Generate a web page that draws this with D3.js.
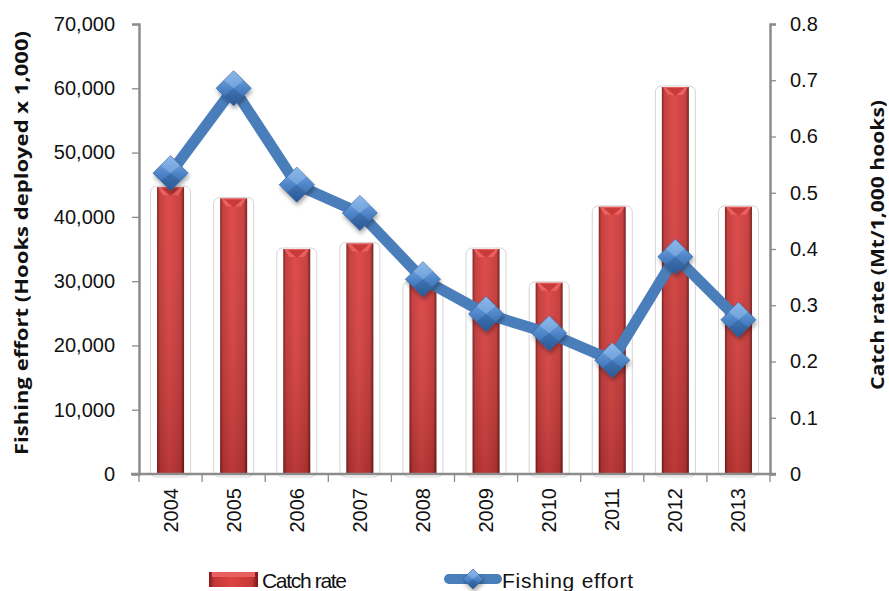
<!DOCTYPE html>
<html>
<head>
<meta charset="utf-8">
<script src="https://cdn.jsdelivr.net/npm/d3@7"></script>
<style>
  body { margin: 0; background: #fff; }
  svg { display: block; }
</style>
</head>
<body>
<div id="chart"></div>
<script>
// data
var years = ["2004","2005","2006","2007","2008","2009","2010","2011","2012","2013"];
var catchRate = [0.51, 0.49, 0.40, 0.41, 0.34, 0.40, 0.34, 0.475, 0.688, 0.475];
var effort = [46800, 60000, 45000, 40600, 30300, 24900, 21900, 17700, 33800, 24000];
var leftTicks = [0, 10000, 20000, 30000, 40000, 50000, 60000, 70000];
var rightTicks = [0, 0.1, 0.2, 0.3, 0.4, 0.5, 0.6, 0.7, 0.8];

var width = 889, height = 591;
var plot = {left: 139, right: 770, top: 24, bottom: 474};

var svg = d3.select("#chart").append("svg")
    .attr("width", width)
    .attr("height", height);

var defs = svg.append("defs");

// bar gradient (dark edges, bright middle)
var bg = defs.append("linearGradient").attr("id", "barGrad")
    .attr("x1", "0").attr("x2", "1").attr("y1", "0").attr("y2", "0");
bg.append("stop").attr("offset", "0").attr("stop-color", "#7a1b1b");
bg.append("stop").attr("offset", "0.1").attr("stop-color", "#c23736");
bg.append("stop").attr("offset", "0.45").attr("stop-color", "#db4342");
bg.append("stop").attr("offset", "0.88").attr("stop-color", "#c43837");
bg.append("stop").attr("offset", "1").attr("stop-color", "#6e1717");

var bv = defs.append("linearGradient").attr("id", "barShade")
    .attr("x1", "0").attr("x2", "0").attr("y1", "0").attr("y2", "1");
bv.append("stop").attr("offset", "0").attr("stop-color", "#ffffff").attr("stop-opacity", 0.05);
bv.append("stop").attr("offset", "1").attr("stop-color", "#000000").attr("stop-opacity", 0.15);

var dg = defs.append("linearGradient").attr("id", "diaGrad")
    .attr("x1", "0").attr("x2", "0").attr("y1", "0").attr("y2", "1");
dg.append("stop").attr("offset", "0").attr("stop-color", "#7fb0e8");
dg.append("stop").attr("offset", "0.5").attr("stop-color", "#4f86c9");
dg.append("stop").attr("offset", "1").attr("stop-color", "#2f5f9e");

var shadow = defs.append("filter").attr("id", "shadow")
    .attr("x", "-50%").attr("y", "-50%").attr("width", "200%").attr("height", "200%");
shadow.append("feDropShadow").attr("dx", 1).attr("dy", 3).attr("stdDeviation", 2)
    .attr("flood-color", "#000").attr("flood-opacity", 0.35);

// scales
var x = d3.scaleBand().domain(years).range([plot.left, plot.right]);
var yLeft = d3.scaleLinear().domain([0, 70000]).range([plot.bottom, plot.top]);
var yRight = d3.scaleLinear().domain([0, 0.8]).range([plot.bottom, plot.top]);

var barW = 27, frameW = 40;
var cx = function(d, i) { return x(years[i]) + x.bandwidth() / 2; };

// bars
var bars = svg.append("g").selectAll("g").data(catchRate).enter().append("g");

bars.append("rect")
    .attr("x", function(d, i) { return cx(d, i) - frameW / 2; })
    .attr("y", function(d) { return yRight(d) - 1; })
    .attr("width", frameW)
    .attr("height", function(d) { return plot.bottom - yRight(d) + 4; })
    .attr("rx", 6)
    .attr("fill", "none")
    .attr("stroke", "#d4d4d4")
    .attr("stroke-width", 1);

bars.append("rect")
    .attr("x", function(d, i) { return cx(d, i) - barW / 2; })
    .attr("y", function(d) { return yRight(d); })
    .attr("width", barW)
    .attr("height", function(d) { return plot.bottom - yRight(d); })
    .attr("fill", "url(#barGrad)");

bars.append("rect")
    .attr("x", function(d, i) { return cx(d, i) - barW / 2; })
    .attr("y", function(d) { return yRight(d); })
    .attr("width", barW)
    .attr("height", function(d) { return plot.bottom - yRight(d); })
    .attr("fill", "url(#barShade)");

// bevel on bar top: light band with a darker V inside
bars.append("path")
    .attr("d", function(d, i) {
      var c = cx(d, i), t = yRight(d), h = barW / 2 - 1;
      return "M" + (c - h) + "," + t + "L" + (c + h) + "," + t + "L" + (c + h - 5) + "," + (t + 8) +
        "L" + (c - h + 5) + "," + (t + 8) + "Z";
    })
    .attr("fill", "#e86160");
bars.append("path")
    .attr("d", function(d, i) {
      var c = cx(d, i), t = yRight(d);
      return "M" + (c - 9) + "," + (t + 1) + "L" + (c + 9) + "," + (t + 1) + "L" + c + "," + (t + 9) + "Z";
    })
    .attr("fill", "#c93a39");

// axes
var axisColor = "#8c8c8c";
var fmt = d3.format(",");

var gl = svg.append("g").attr("transform", "translate(" + plot.left + ",0)")
    .call(d3.axisLeft(yLeft).tickValues(leftTicks).tickFormat(fmt).tickSize(7).tickPadding(17));
var gr = svg.append("g").attr("transform", "translate(" + plot.right + ",0)")
    .call(d3.axisRight(yRight).tickValues(rightTicks).tickFormat(function(d) { return d === 0 ? "0" : d3.format(".1f")(d); })
      .tickSize(6).tickPadding(14));
var gx = svg.append("g").attr("transform", "translate(0," + plot.bottom + ")")
    .call(d3.axisBottom(x).tickSize(0).tickPadding(0).tickFormat(""));

[gl, gr].forEach(function(g) {
  g.select(".domain").attr("stroke", axisColor).attr("stroke-width", 2.5);
  g.selectAll(".tick line").attr("stroke", axisColor).attr("stroke-width", 1.3);
  g.selectAll(".tick text").attr("font-family", "Liberation Sans, Arial, sans-serif")
    .attr("font-size", 20).attr("fill", "#111");
});
gx.select(".domain").attr("stroke", axisColor).attr("stroke-width", 2.5)
    .attr("d", "M" + (plot.left - 8) + ",0H" + (plot.right + 6));

// category ticks on band edges
svg.append("g").selectAll("line").data(years.concat(["end"])).enter().append("line")
    .attr("x1", function(d, i) { return plot.left + i * x.bandwidth(); })
    .attr("x2", function(d, i) { return plot.left + i * x.bandwidth(); })
    .attr("y1", plot.bottom)
    .attr("y2", plot.bottom + 8)
    .attr("stroke", axisColor)
    .attr("stroke-width", 1.3);

// year labels, rotated
svg.append("g").selectAll("text").data(years).enter().append("text")
    .attr("transform", function(d) { return "translate(" + (x(d) + x.bandwidth() / 2 + 7) + "," + (plot.bottom + 14) + ") rotate(-90)"; })
    .attr("text-anchor", "end")
    .attr("font-family", "Liberation Sans, Arial, sans-serif")
    .attr("font-size", 20)
    .attr("fill", "#111")
    .text(function(d) { return d; });

// effort line
var line = d3.line()
    .x(function(d, i) { return cx(d, i); })
    .y(function(d) { return yLeft(d); });

svg.append("path")
    .datum(effort)
    .attr("d", line)
    .attr("fill", "none")
    .attr("stroke", "#4a7ebb")
    .attr("stroke-width", 11)
    .attr("stroke-linejoin", "round");

function diamond(g, r) {
  g.append("path")
    .attr("d", "M0," + (-r) + "L" + r + ",0L0," + r + "L" + (-r) + ",0Z")
    .attr("fill", "url(#diaGrad)")
    .attr("stroke", "#3a6aa6")
    .attr("stroke-width", 0.8)
    .attr("filter", "url(#shadow)");
  // upper facets lighter
  g.append("path")
    .attr("d", "M0," + (-r) + "L" + (r * 0.55) + "," + (-r * 0.45) + "L0,0L" + (-r * 0.55) + "," + (-r * 0.45) + "Z")
    .attr("fill", "#9cc3f0").attr("opacity", 0.45);
  g.append("path")
    .attr("d", "M0," + r + "L" + (r * 0.55) + "," + (r * 0.45) + "L0,0L" + (-r * 0.55) + "," + (r * 0.45) + "Z")
    .attr("fill", "#1f4a80").attr("opacity", 0.3);
}

svg.append("g").selectAll("g").data(effort).enter().append("g")
    .attr("transform", function(d, i) { return "translate(" + cx(d, i) + "," + yLeft(d) + ")"; })
    .each(function() { diamond(d3.select(this), 17.5); });

// axis titles
svg.append("text")
    .attr("transform", "translate(28,243) rotate(-90)")
    .attr("text-anchor", "middle")
    .attr("font-family", "Open Sans, sans-serif")
    .attr("font-weight", "bold")
    .attr("font-size", 18)
    .attr("textLength", 424)
    .attr("lengthAdjust", "spacingAndGlyphs")
    .attr("fill", "#111")
    .text("Fishing effort (Hooks deployed x 1,000)");

svg.append("text")
    .attr("transform", "translate(884,245) rotate(-90)")
    .attr("text-anchor", "middle")
    .attr("font-family", "Open Sans, sans-serif")
    .attr("font-weight", "bold")
    .attr("font-size", 18)
    .attr("textLength", 290)
    .attr("lengthAdjust", "spacingAndGlyphs")
    .attr("fill", "#111")
    .text("Catch rate (Mt/1,000 hooks)");

// legend
var lg = svg.append("g");
lg.append("rect").attr("x", 209).attr("y", 572).attr("width", 49).attr("height", 15)
    .attr("fill", "url(#barGrad)");
lg.append("rect").attr("x", 212).attr("y", 572).attr("width", 43).attr("height", 5)
    .attr("fill", "#e86160");
lg.append("text").attr("x", 262).attr("y", 588)
    .attr("font-family", "Liberation Sans, Arial, sans-serif")
    .attr("font-size", 21).attr("fill", "#111")
    .attr("textLength", 85).attr("lengthAdjust", "spacing")
    .text("Catch rate");

lg.append("line").attr("x1", 449).attr("x2", 497).attr("y1", 579).attr("y2", 579)
    .attr("stroke", "#4a7ebb").attr("stroke-width", 10).attr("stroke-linecap", "round");
diamond(lg.append("g").attr("transform", "translate(473,579)"), 10);
lg.append("text").attr("x", 502).attr("y", 588)
    .attr("font-family", "Liberation Sans, Arial, sans-serif")
    .attr("font-size", 21).attr("fill", "#111")
    .attr("textLength", 131).attr("lengthAdjust", "spacing")
    .text("Fishing effort");
</script>
</body>
</html>
